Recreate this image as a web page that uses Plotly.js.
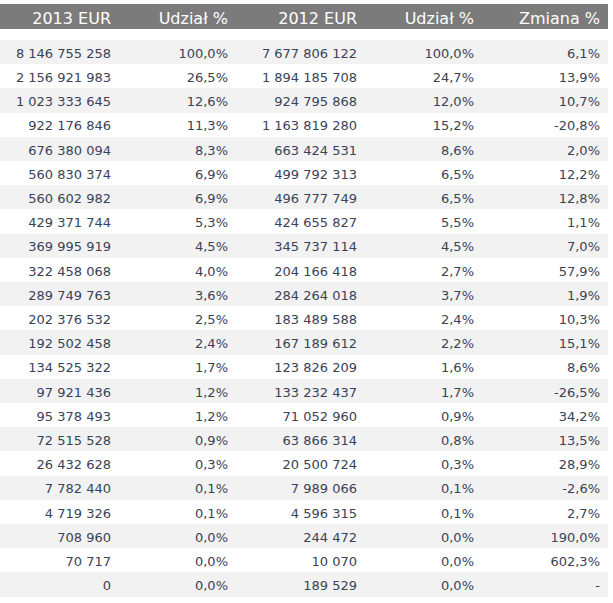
<!DOCTYPE html>
<html>
<head>
<meta charset="utf-8">
<script src="https://cdn.plot.ly/plotly-3.0.1.min.js"></script>
<style>
html,body{margin:0;padding:0;background:#fff;}
#chart{width:613px;height:603px;}
</style>
</head>
<body>
<div id="chart"></div>
<script>
var headers = ["2013 EUR", "Udział %", "2012 EUR", "Udział %", "Zmiana %"];
var eur2013 = ["8 146 755 258","2 156 921 983","1 023 333 645","922 176 846","676 380 094","560 830 374","560 602 982","429 371 744","369 995 919","322 458 068","289 749 763","202 376 532","192 502 458","134 525 322","97 921 436","95 378 493","72 515 528","26 432 628","7 782 440","4 719 326","708 960","70 717","0"];
var share2013 = ["100,0%","26,5%","12,6%","11,3%","8,3%","6,9%","6,9%","5,3%","4,5%","4,0%","3,6%","2,5%","2,4%","1,7%","1,2%","1,2%","0,9%","0,3%","0,1%","0,1%","0,0%","0,0%","0,0%"];
var eur2012 = ["7 677 806 122","1 894 185 708","924 795 868","1 163 819 280","663 424 531","499 792 313","496 777 749","424 655 827","345 737 114","204 166 418","284 264 018","183 489 588","167 189 612","123 826 209","133 232 437","71 052 960","63 866 314","20 500 724","7 989 066","4 596 315","244 472","10 070","189 529"];
var share2012 = ["100,0%","24,7%","12,0%","15,2%","8,6%","6,5%","6,5%","5,5%","4,5%","2,7%","3,7%","2,4%","2,2%","1,6%","1,7%","0,9%","0,8%","0,3%","0,1%","0,1%","0,0%","0,0%","0,0%"];
var change = ["6,1%","13,9%","10,7%","-20,8%","2,0%","12,2%","12,8%","1,1%","7,0%","57,9%","1,9%","10,3%","15,1%","8,6%","-26,5%","34,2%","13,5%","28,9%","-2,6%","2,7%","190,0%","602,3%","-"];

var W = 613, H = 603;
var colW = [119, 117, 129, 117, 126];
var tableW = colW.reduce(function(a,b){return a+b;}, 0);
var nRows = eur2013.length;
var rowFill = eur2013.map(function(_, i){ return i % 2 === 0 ? '#f2f2f2' : '#ffffff'; });
var fills = headers.map(function(){ return rowFill; });

var headerTrace = {
  type: 'table',
  domain: {x: [0, tableW / W], y: [0, 1 - 4 / H]},
  columnwidth: colW,
  header: {
    values: headers,
    align: 'right',
    height: 25,
    fill: {color: '#7b7b7b'},
    line: {width: 0, color: '#7b7b7b'},
    font: {family: 'DejaVu Sans, Verdana, sans-serif', size: 16, color: '#ffffff'}
  },
  cells: {values: [[], [], [], [], []], height: 24.2, line: {width: 0}}
};

var dataTrace = {
  type: 'table',
  domain: {x: [0, tableW / W], y: [0, 1 - 29 / H]},
  columnwidth: colW,
  header: {
    values: ['', '', '', '', ''],
    height: 11,
    fill: {color: '#ffffff'},
    line: {width: 0, color: '#ffffff'},
    font: {size: 1}
  },
  cells: {
    values: [eur2013, share2013, eur2012, share2012, change],
    align: 'right',
    height: 24.2,
    fill: {color: fills},
    line: {width: 0, color: '#ffffff'},
    font: {family: 'DejaVu Sans, Verdana, sans-serif', size: 13, color: '#3a4257'}
  }
};

Plotly.newPlot('chart', [headerTrace, dataTrace], {
  width: W, height: H,
  margin: {l: 0, r: 0, t: 0, b: 0},
  paper_bgcolor: '#ffffff',
  showlegend: false
}, {displayModeBar: false, staticPlot: true});
</script>
</body>
</html>
